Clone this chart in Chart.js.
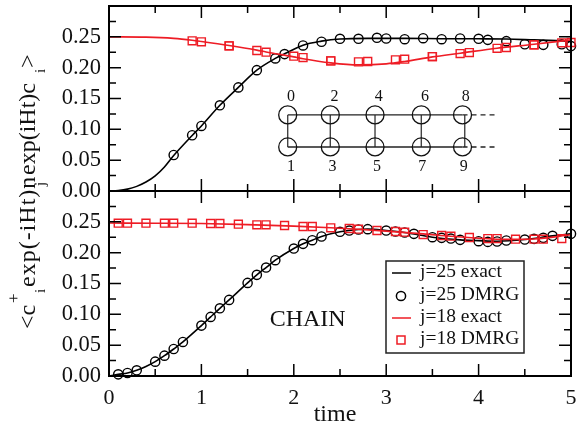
<!DOCTYPE html>
<html><head><meta charset="utf-8">
<style>html,body{margin:0;padding:0;background:#fff}canvas{display:block}</style>
<script src="https://cdn.jsdelivr.net/npm/chart.js@4"></script>
</head><body><canvas id="c" width="577" height="433"></canvas>
<script>
const topBlackExactT=[0,.1,.2,.3,.4,.5,.6,.7,.9,1,1.2,1.4,1.6,1.8,1.9,2.1,2.3,2.5,2.8,3.2,3.6,4,4.3,4.6,5];
const topBlackExactY=[0,.0008,.003,.0075,.0145,.0245,.039,.0575,.09,.1055,.139,.168,.196,.215,.2225,.2365,.243,.2465,.2475,.2475,.247,.2468,.2465,.245,.243];
const topBlackDmrgT=[.7,.9,1,1.2,1.4,1.6,1.8,1.9,2.1,2.3,2.5,2.7,2.9,3,3.2,3.4,3.6,3.8,4,4.1,4.3,4.5,4.7,4.9,5];
const topBlackDmrgY=[.0584,.0904,.1055,.139,.168,.196,.215,.222,.236,.242,.2468,.2468,.2484,.2473,.2462,.2478,.2462,.2473,.2468,.2451,.243,.238,.237,.238,.235];
const topRedExactT=[0,.4,.7,.9,1,1.3,1.6,1.7,2,2.1,2.4,2.7,3,3.2,3.5,3.8,4.2,4.6,5];
const topRedExactY=[.25,.2495,.2475,.2445,.2425,.236,.2285,.2255,.2175,.2145,.2078,.2045,.2062,.21,.2175,.2235,.2316,.238,.245];
const topRedDmrgT=[.9,1,1.3,1.3,1.6,1.7,2,2.1,2.4,2.4,2.7,2.8,3.1,3.2,3.5,3.5,3.8,3.9,4.2,4.3,4.6,4.6,4.9,5];
const topRedDmrgY=[.2435,.2419,.2354,.2354,.2278,.2251,.2186,.2164,.211,.211,.2094,.21,.2127,.2138,.218,.218,.2229,.2245,.2313,.2327,.237,.237,.2403,.2408];
const botBlackExactT=[0,.1,.2,.3,.4,.5,.6,.7,.8,1,1.1,1.2,1.3,1.5,1.6,1.7,1.8,2,2.1,2.2,2.3,2.5,2.7,2.8,3,3.2,3.5,3.8,4,4.2,4.5,4.8,5];
const botBlackExactY=[0,.0027,.0049,.0092,.0155,.0233,.033,.0438,.0552,.0817,.0958,.1098,.1234,.151,.164,.1759,.1878,.2067,.2143,.2202,.2262,.2338,.2376,.2381,.2359,.2327,.2251,.2208,.2195,.2185,.2213,.2273,.2305];
const botBlackDmrgT=[.1,.2,.3,.5,.6,.7,.8,1,1.1,1.2,1.3,1.5,1.6,1.7,1.8,2,2.1,2.2,2.3,2.5,2.6,2.7,2.8,3,3.1,3.2,3.3,3.5,3.6,3.7,3.8,4,4.1,4.2,4.3,4.5,4.6,4.7,4.8,5];
const botBlackDmrgY=[.0027,.0049,.0092,.0233,.033,.0438,.0552,.0817,.0958,.1098,.1234,.151,.164,.1759,.1878,.2067,.2143,.2202,.2262,.2338,.2359,.2376,.2381,.2359,.2343,.2327,.2305,.2251,.224,.2229,.2208,.2186,.2175,.2181,.2197,.2213,.2224,.224,.2273,.2305];
const botRedExactT=[0,.5,1,1.5,2,2.4,2.7,3,3.4,3.7,4,4.3,4.6,5];
const botRedExactY=[.248,.2478,.2472,.2455,.243,.2405,.238,.235,.2305,.2265,.2235,.2215,.2222,.229];
const botRedDmrgT=[.1,.2,.4,.6,.7,.9,1.1,1.2,1.4,1.6,1.7,1.9,2.1,2.2,2.4,2.6,2.7,2.9,3.1,3.2,3.4,3.6,3.7,3.9,4.1,4.2,4.4,4.6,4.7,4.9];
const botRedDmrgY=[.2478,.2478,.2478,.2478,.2478,.2478,.2473,.2473,.2462,.2451,.2451,.244,.2424,.2424,.2403,.2392,.2381,.2359,.2343,.2332,.2294,.2278,.2267,.2246,.2229,.2229,.2219,.2219,.2219,.2229];
const seriesNames=["j=25 exact","j=25 DMRG","j=18 exact","j=18 DMRG"];
const yTickLabelsHidden=[0.3];
const nodeT=[1.934,2.395,2.879,3.38,3.826];
const rungT=[1.934,2.395,2.879,3.38,3.85];
const rowTopY=0.1234, rowBotY=0.0714;
const dashEndT=[4.18,4.2];
const nodeLabelsTop=["0","2","4","6","8"];
const nodeLabelsBot=["1","3","5","7","9"];
const labelTopT=[1.97,2.44,2.92,3.42,3.86];
const labelBotT=[1.97,2.42,2.9,3.39,3.84];
const labelTopY=0.153, labelBotY=0.04;
const RED="#ee1c25", INK="#000";
const SERIF='"Liberation Serif", serif';
const pts=(t,y)=>t.map((v,i)=>({x:v,y:y[i]}));
const lineDs=(label,t,y,c,axis,order)=>({label,data:pts(t,y),borderColor:c,backgroundColor:c,borderWidth:1.6,pointRadius:0,cubicInterpolationMode:'monotone',yAxisID:axis,order,clip:false});
const markDs=(label,t,y,c,axis,style,r,order)=>({label,data:pts(t,y),showLine:false,pointStyle:style,pointRadius:r,pointBorderWidth:1.4,pointBorderColor:c,pointBackgroundColor:'rgba(0,0,0,0)',borderColor:c,yAxisID:axis,order,clip:false});
const thin=(t,y,o={})=>Object.assign({label:'lattice',data:pts(t,y),borderColor:'#222',borderWidth:1.4,pointRadius:0,yAxisID:'yTop',order:20},o);
const datasets=[
 lineDs(seriesNames[0],topBlackExactT,topBlackExactY,INK,'yTop',6),
 markDs(seriesNames[1],topBlackDmrgT,topBlackDmrgY,INK,'yTop','circle',4.6,5),
 lineDs(seriesNames[2],topRedExactT,topRedExactY,RED,'yTop',4),
 markDs(seriesNames[3],topRedDmrgT,topRedDmrgY,RED,'yTop','rect',5.6,3),
 lineDs(seriesNames[0],botBlackExactT,botBlackExactY,INK,'yBot',6),
 markDs(seriesNames[1],botBlackDmrgT,botBlackDmrgY,INK,'yBot','circle',4.6,5),
 lineDs(seriesNames[2],botRedExactT,botRedExactY,RED,'yBot',4),
 markDs(seriesNames[3],botRedDmrgT,botRedDmrgY,RED,'yBot','rect',5.6,3),
 thin([nodeT[0],nodeT[4]],[rowTopY,rowTopY]),
 thin([nodeT[0],nodeT[4]],[rowBotY,rowBotY]),
 thin([nodeT[4],dashEndT[0]],[rowTopY,rowTopY],{borderDash:[5,4]}),
 thin([nodeT[4],dashEndT[1]],[rowBotY,rowBotY],{borderDash:[5,4]}),
 ...rungT.map(t=>thin([t,t],[rowTopY,rowBotY],{borderColor:'#444'})),
 {label:'sites',data:nodeT.flatMap(t=>[{x:t,y:rowTopY},{x:t,y:rowBotY}]),showLine:false,pointRadius:9,pointBorderWidth:1.3,pointBorderColor:'#111',pointBackgroundColor:'rgba(0,0,0,0)',yAxisID:'yTop',order:19}
];
function yScale(){return {type:'linear',position:'left',stack:'panels',stackWeight:1,min:0,max:0.3,
 grid:{display:false,drawTicks:false},border:{display:false},
 ticks:{stepSize:.05,autoSkip:false,padding:8,color:'#111',font:{family:SERIF,size:22.5},
  callback:v=>yTickLabelsHidden.some(h=>Math.abs(h-v)<1e-6)?'':v.toFixed(2)},
 afterFit(s){s.width=109;s.paddingTop=0;s.paddingBottom=0;}};}
const artwork={id:'artwork',
 beforeDraw(ch){const g=ch.ctx;g.save();g.fillStyle='#fff';g.fillRect(0,0,ch.width,ch.height);g.restore();},
 afterDraw(ch){
  const g=ch.ctx,x=ch.scales.x,yT=ch.scales.yTop,yB=ch.scales.yBot;
  g.save();g.strokeStyle='#000';g.lineWidth=1.5;g.beginPath();
  [yT,yB].forEach(y=>{
   for(let k=0;k<=12;k++){const p=y.getPixelForValue(k*.025),l=k%2?7:12;
    g.moveTo(x.left,p);g.lineTo(x.left+l,p);g.moveTo(x.right,p);g.lineTo(x.right-l,p);}
   for(let k=0;k<=10;k++){const p=x.getPixelForValue(k*.5),l=k%2?7:12;
    g.moveTo(p,y.top);g.lineTo(p,y.top+l);g.moveTo(p,y.bottom);g.lineTo(p,y.bottom-l);}
  });g.stroke();
  g.lineWidth=2;g.strokeRect(x.left,yT.top,x.right-x.left,yT.bottom-yT.top);
  g.strokeRect(x.left,yB.top,x.right-x.left,yB.bottom-yB.top);
  g.fillStyle='#111';g.textAlign='center';g.textBaseline='middle';
  g.font='16px '+SERIF;
  nodeLabelsTop.forEach((s,i)=>g.fillText(s,x.getPixelForValue(labelTopT[i]),yT.getPixelForValue(labelTopY)));
  nodeLabelsBot.forEach((s,i)=>g.fillText(s,x.getPixelForValue(labelBotT[i]),yT.getPixelForValue(labelBotY)));
  g.font='24px '+SERIF;g.fillText('CHAIN',x.getPixelForValue(2.15),yB.getPixelForValue(0.0905));
  g.fillText('time',335,415);
  const bx=386,by=261,bw=138,bh=92;g.fillStyle='#fff';g.fillRect(bx,by,bw,bh);
  g.strokeStyle='#222';g.lineWidth=1.5;g.strokeRect(bx,by,bw,bh);
  const rows=[272,295,317,339];
  g.textAlign='left';g.fillStyle='#111';g.font='19.5px '+SERIF;
  seriesNames.forEach((s,i)=>g.fillText(s,420,rows[i]));
  g.lineWidth=1.5;g.strokeStyle='#000';g.beginPath();g.moveTo(392,273);g.lineTo(411,273);g.stroke();
  g.beginPath();g.arc(401,296,4.6,0,7);g.stroke();
  g.strokeStyle=RED;g.beginPath();g.moveTo(392,318);g.lineTo(411,318);g.stroke();
  g.strokeRect(397,336,8,8);
  g.translate(35,329);g.rotate(-Math.PI/2);g.textAlign='left';g.textBaseline='alphabetic';g.fillStyle='#111';
  const run=(s,pen,size,dy,ls)=>{g.font=size+'px '+SERIF;g.letterSpacing=(ls||0)+'px';g.fillText(s,pen,dy);};
  run('<c',0,24,0,0);run('+',26,17,-16.5,0);run('i',36,15,10,0);
  run('exp(-iHt)n',42,24,0,1);run('j',143,15,10,0);
  run('exp(iHt)c',154,24,0,0);run('i',256,15,10,0);run('>',261,24,0,0);
  g.restore();
 }};
new Chart(document.getElementById('c'),{type:'line',data:{datasets},plugins:[artwork],options:{
 responsive:false,animation:false,parsing:true,
 layout:{autoPadding:false,padding:{top:6,right:6,left:0,bottom:0}},
 plugins:{legend:{display:false},tooltip:{enabled:false}},
 scales:{
  x:{type:'linear',min:0,max:5,grid:{display:false,drawTicks:false},border:{display:false},
   ticks:{stepSize:1,padding:9,color:'#111',maxRotation:0,font:{family:SERIF,size:22},callback:v=>String(v)},
   afterFit(s){s.height=57;s.paddingLeft=0;s.paddingRight=0;}},
  yBot:yScale(),
  yTop:yScale()
 }}});
</script></body></html>
